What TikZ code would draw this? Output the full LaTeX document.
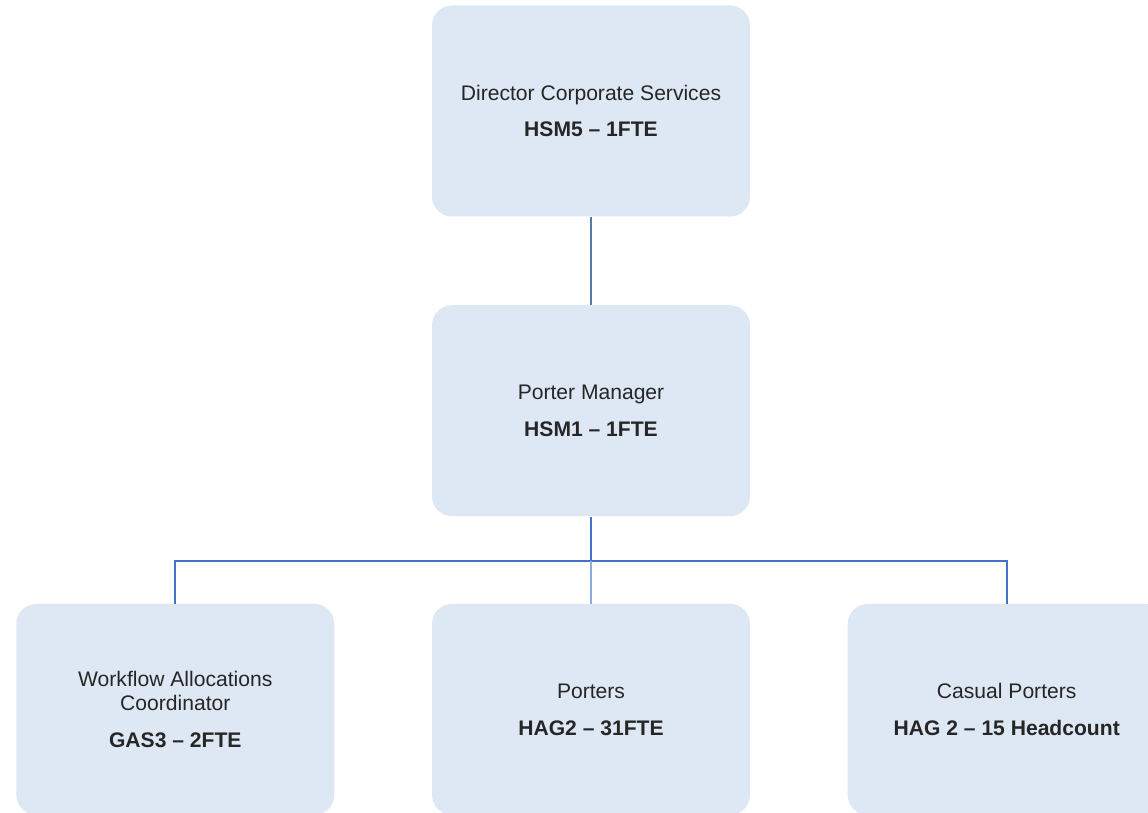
\documentclass[tikz,border=0pt]{standalone}
\usepackage{fontspec}
\setmainfont{Liberation Sans}
\usetikzlibrary{positioning}

\definecolor{boxfill}{HTML}{DEE8F4}
\definecolor{lineblue}{HTML}{4472C4}
\definecolor{textgrey}{HTML}{262626}

\tikzset{
  post/.style={fill=boxfill, rounded corners=0.4cm, minimum width=6.36cm,
    minimum height=4.22cm, align=center, text=textgrey,
    font=\fontsize{12}{13.6}\selectfont},
  link/.style={draw=lineblue, line width=1.1pt},
}

\begin{document}
\begin{tikzpicture}[node distance=1.74cm and 1.94cm]

\useasboundingbox (0,0) rectangle (22.96,-16.26);
\clip (0,0) rectangle (22.96,-16.26);

% boxes
\node[post] (dcs) at (11.82,-2.22) {Director Corporate Services\\[0.26cm]\textbf{HSM5 -- 1FTE}};
\node[post, below=1.76cm of dcs] (pm) {Porter Manager\\[0.26cm]\textbf{HSM1 -- 1FTE}};
\node[post, below=of pm] (por) {Porters\\[0.26cm]\textbf{HAG2 -- 31FTE}};
\node[post, left=of por] (wac) {Workflow Allocations\\Coordinator\\[0.26cm]\textbf{GAS3 -- 2FTE}};
\node[post, right=of por] (cas) {Casual Porters\\[0.26cm]\textbf{HAG 2 -- 15 Headcount}};

% connectors
\coordinate (split) at ([yshift=-0.88cm]pm.south);
\draw[link, draw=lineblue!60!gray] (dcs) -- (pm);
\draw[link] (pm) -- (split);
\draw[link] (split) -| (wac.north);
\draw[link] (split) -| (cas.north);
\draw[link, draw=lineblue!60] (split) -- (por);

\end{tikzpicture}
\end{document}
